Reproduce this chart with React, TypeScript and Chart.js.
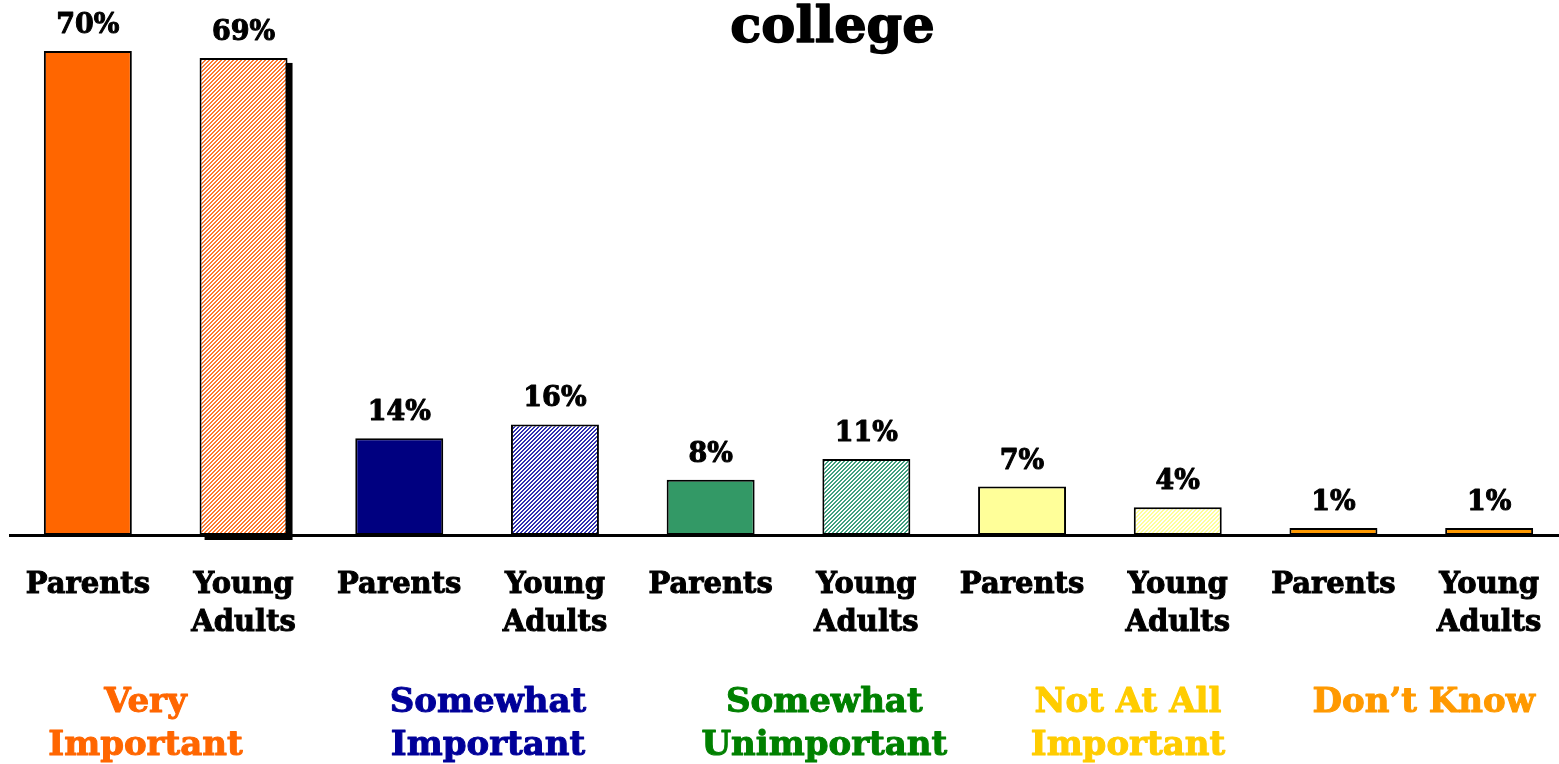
import { useEffect, useRef } from "react";
import { Chart, registerables } from "chart.js";

Chart.register(...registerables);

// ---- data ----
const titleText = "college";
const categories: string[][] = [
  ["Parents"], ["Young", "Adults"],
  ["Parents"], ["Young", "Adults"],
  ["Parents"], ["Young", "Adults"],
  ["Parents"], ["Young", "Adults"],
  ["Parents"], ["Young", "Adults"],
];
const values = [70, 69, 14, 16, 8, 11, 7, 4, 1, 1];
const valueLabels = ["70%", "69%", "14%", "16%", "8%", "11%", "7%", "4%", "1%", "1%"];
const groupNames: string[][] = [
  ["Very", "Important"],
  ["Somewhat", "Important"],
  ["Somewhat", "Unimportant"],
  ["Not At All", "Important"],
  ["Don’t Know"],
];
const groupColors = ["#FF6600", "#000099", "#008000", "#FFCC00", "#FF9900"];
const parentColors = ["#FF6600", "#000080", "#339966", "#FFFF99", "#FF9900"];
const youngColors = ["#FF7A30", "#3030B0", "#40A080", "#FFFF99", "#FF9900"];
const youngHatched = [true, true, true, true, false];

// ---- layout/style constants ----
const FONT = "'DejaVu Serif', serif";
const groupAnchors = [0.37, 2.57, 4.73, 6.68, 8.58]; // fractional category index
const shadowBars = [1];

function hatch(color: string): CanvasPattern | string {
  const c = document.createElement("canvas");
  c.width = 4;
  c.height = 4;
  const g = c.getContext("2d");
  if (!g) return color;
  g.fillStyle = "#ffffff";
  g.fillRect(0, 0, 4, 4);
  g.fillStyle = color;
  for (let x = 0; x < 4; x++) {
    for (let y = 0; y < 4; y++) {
      if ((x + y) % 4 < 2) g.fillRect(x, y, 1, 1);
    }
  }
  const p = g.createPattern(c, "repeat");
  return p || color;
}

function boldText(ctx: CanvasRenderingContext2D, t: string, x: number, y: number) {
  ctx.strokeText(t, x, y);
  ctx.fillText(t, x, y);
}

const decorPlugin = {
  id: "decor",
  beforeDatasetsDraw(chart: any) {
    const ctx = chart.ctx;
    const meta = chart.getDatasetMeta(0);
    ctx.save();
    ctx.fillStyle = "#000";
    shadowBars.forEach((i) => {
      const el = meta.data[i];
      if (!el) return;
      const w = el.width;
      ctx.fillRect(el.x - w / 2 + 5, el.y + 5, w, el.base - el.y);
    });
    ctx.restore();
  },
  afterDatasetsDraw(chart: any) {
    const ctx = chart.ctx;
    const meta = chart.getDatasetMeta(0);
    const xs = chart.scales.x;
    const area = chart.chartArea;
    ctx.save();
    ctx.textAlign = "center";
    ctx.textBaseline = "alphabetic";
    ctx.lineJoin = "round";
    // value labels
    ctx.fillStyle = "#000";
    ctx.strokeStyle = "#000";
    ctx.lineWidth = 1;
    ctx.font = `bold 27px ${FONT}`;
    meta.data.forEach((el: any, i: number) => {
      boldText(ctx, valueLabels[i], el.x, el.y - 18);
    });
    // title
    ctx.lineWidth = 1.5;
    ctx.font = `bold 51px ${FONT}`;
    boldText(ctx, titleText, (area.left + area.right) / 2 + 44, 42);
    // group labels
    ctx.lineWidth = 1;
    ctx.font = `bold 34px ${FONT}`;
    groupNames.forEach((lines, g) => {
      const x = xs.getPixelForValue(groupAnchors[g]);
      ctx.fillStyle = groupColors[g];
      ctx.strokeStyle = groupColors[g];
      lines.forEach((t, k) => {
        boldText(ctx, t, x, 712 + k * 43);
      });
    });
    ctx.restore();
  },
};

export default function App() {
  const ref = useRef<HTMLCanvasElement>(null);
  useEffect(() => {
    if (!ref.current) return;
    const bg: any[] = [];
    parentColors.forEach((c, g) => {
      bg.push(c);
      bg.push(youngHatched[g] ? hatch(youngColors[g]) : youngColors[g]);
    });
    const chart = new Chart(ref.current, {
      type: "bar",
      data: {
        labels: categories,
        datasets: [
          {
            data: values,
            backgroundColor: bg,
            borderColor: "#000",
            borderWidth: 2,
            borderSkipped: false,
            categoryPercentage: 1,
            barPercentage: 0.565,
          },
        ],
      },
      options: {
        responsive: false,
        animation: false,
        devicePixelRatio: 1,
        layout: { padding: { left: 10, right: 3, top: 0, bottom: 0 } },
        plugins: {
          legend: { display: false },
          tooltip: { enabled: false },
          title: { display: false },
        },
        scales: {
          y: { display: false, min: 0, max: 77.38 },
          x: {
            grid: { display: false, drawTicks: false },
            border: { display: true, color: "#000", width: 3 },
            ticks: {
              color: "#000",
              textStrokeColor: "#000",
              textStrokeWidth: 1,
              font: { family: FONT, weight: "bold", size: 29, lineHeight: 38 / 29 },
              padding: 31,
              maxRotation: 0,
              autoSkip: false,
            },
            afterFit(scale: any) {
              scale.height = 229;
              scale.paddingLeft = 0;
              scale.paddingRight = 0;
            },
          },
        },
      } as any,
      plugins: [decorPlugin],
    });
    return () => chart.destroy();
  }, []);
  return (
    <div
      style={{
        position: "fixed",
        left: 0,
        top: 0,
        width: 1559,
        height: 764,
        overflow: "hidden",
        background: "#fff",
      }}
    >
      <canvas ref={ref} width={1570} height={764} style={{ display: "block" }} />
    </div>
  );
}
